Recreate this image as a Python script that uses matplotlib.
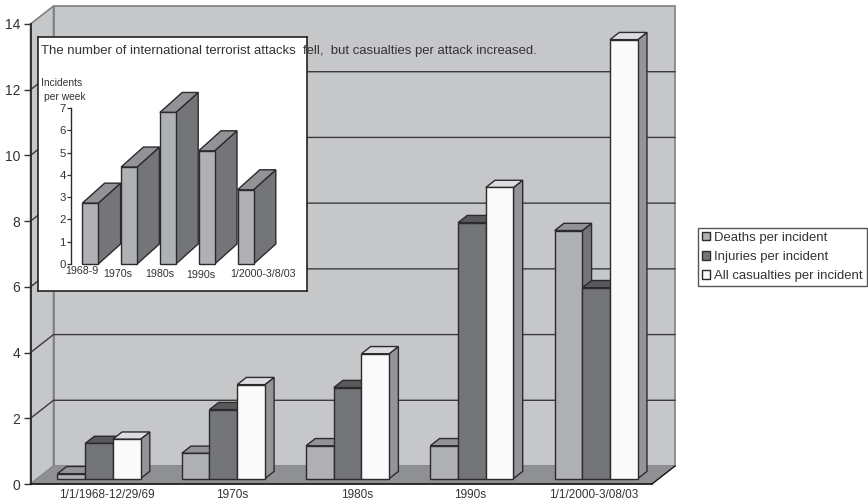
import matplotlib
matplotlib.use('Agg')
import matplotlib.pyplot as plt
from matplotlib.patches import Polygon, Patch

plt.rcParams['font.family'] = ['Liberation Sans', 'DejaVu Sans']

W, H = 868, 503

periods = ['1/1/1968-12/29/69', '1970s', '1980s', '1990s', '1/1/2000-3/08/03']
deaths = [0.15, 0.77, 1.0, 1.0, 7.55]
injuries = [1.07, 2.1, 2.77, 7.79, 5.81]
casualties = [1.2, 2.86, 3.8, 8.86, 13.36]
series_names = ['Deaths per incident', 'Injuries per incident', 'All casualties per incident']

inset_periods = ['1968-9', '1970s', '1980s', '1990s', '1/2000-3/8/03']
inset_values = [2.73, 4.35, 6.8, 5.08, 3.33]

TEXT = '#333335'
EDGE = '#2b2b2d'
WALL = '#c6c7c9'
FLOOR = '#8f9094'

# (front, top, side) shades for each series
SHADES = [('#b0b1b4', '#929396', '#747578'),
          ('#747578', '#58595b', '#58595b'),
          ('#fafafa', '#dcddde', '#939598')]


def px_axes(fig, x0, y0, x1, y1, **kw):
    # axes box given in pixels from the top left corner
    return fig.add_axes([x0 / W, 1 - y1 / H, (x1 - x0) / W, (y1 - y0) / H], **kw)


def draw_box(ax, x0, x1, low, high, ddx, ddy, shades, lw=1.0):
    front, top, side = shades
    kw = dict(edgecolor=EDGE, linewidth=lw, clip_on=False, joinstyle='miter')
    ax.add_patch(Polygon([(x1, low), (x1 + ddx, low + ddy), (x1 + ddx, high + ddy), (x1, high)],
                         facecolor=side, **kw))
    ax.add_patch(Polygon([(x0, high), (x1, high), (x1 + ddx, high + ddy), (x0 + ddx, high + ddy)],
                         facecolor=top, **kw))
    ax.add_patch(Polygon([(x0, low), (x1, low), (x1, high), (x0, high)],
                         facecolor=front, **kw))


fig = plt.figure(figsize=(W / 100, H / 100), dpi=100)

# main chart: front plane of the 3D box
ax = px_axes(fig, 30.5, 24, 652, 484)
ax.patch.set_visible(False)
ax.set_xlim(0, 5)
ax.set_ylim(0, 14)
depth_x = 23 / (621.5 / 5)
depth_y = 18 / (460 / 14)

ax.add_patch(Polygon([(depth_x, depth_y), (5 + depth_x, depth_y), (5 + depth_x, 14 + depth_y), (depth_x, 14 + depth_y)],
                     facecolor=WALL, edgecolor='#808184', linewidth=1.2, clip_on=False, zorder=0))
ax.add_patch(Polygon([(0, 0), (depth_x, depth_y), (depth_x, 14 + depth_y), (0, 14)],
                     facecolor=WALL, edgecolor='#808184', linewidth=1.2, clip_on=False, zorder=0))
ax.add_patch(Polygon([(0, 0), (5, 0), (5 + depth_x, depth_y), (depth_x, depth_y)],
                     facecolor=FLOOR, edgecolor='none', clip_on=False, zorder=0))
ax.plot([5, 5 + depth_x], [0, depth_y], color='#111111', lw=1, clip_on=False)

for v in range(2, 14, 2):
    ax.plot([0, depth_x, 5 + depth_x], [v, v + depth_y, v + depth_y],
            color='#3a3a3c', lw=1, clip_on=False, zorder=1)

bar_w = 27.7 / (621.5 / 5)
group_start = 0.217
for i in range(len(periods)):
    for j, vals in enumerate([deaths, injuries, casualties]):
        x0 = i + group_start + j * bar_w
        low = 0.3 * depth_y
        draw_box(ax, x0, x0 + bar_w, low, low + vals[i], 0.4 * depth_x, 0.4 * depth_y, SHADES[j])

ax.set_yticks(range(0, 16, 2))
ax.tick_params(axis='y', length=5, width=1, color=TEXT, labelcolor=TEXT, labelsize=10, pad=2.5)
# the labels sit a little off the group centres
ax.set_xticks([0.615, 1.62, 2.63, 3.54, 4.53], labels=periods)
ax.tick_params(axis='x', length=0, labelcolor=TEXT, labelsize=8.5, pad=3.5)
for name in ['top', 'right']:
    ax.spines[name].set_visible(False)
ax.spines['left'].set_color(EDGE)
ax.spines['left'].set_linewidth(1.3)
ax.spines['bottom'].set_color('#111111')
ax.spines['bottom'].set_linewidth(1.2)

leg = ax.legend(handles=[Patch(facecolor=SHADES[k][0], edgecolor=EDGE, label=series_names[k]) for k in range(3)],
                loc='upper left', bbox_to_anchor=(698 / W, 1 - 227.5 / H), bbox_transform=fig.transFigure,
                fontsize=9.45, labelcolor=TEXT, fancybox=False, framealpha=1, edgecolor='#555557',
                handlelength=0.62, handleheight=0.62, handletextpad=0.3, borderpad=0.32,
                labelspacing=0.55, borderaxespad=0)
leg.get_frame().set_linewidth(1)

# inset panel with its note
box = px_axes(fig, 37.5, 37, 307, 290.5)
box.set_xticks([])
box.set_yticks([])
box.set_facecolor('white')
for s in box.spines.values():
    s.set_color('#222224')
    s.set_linewidth(1.2)
fig.text(41 / W, 1 - 51 / H, 'The number of international terrorist attacks  fell,  but casualties per attack increased.',
         fontsize=9.46, color=TEXT, va='center', ha='left')
fig.text(61.5 / W, 1 - 83 / H, 'Incidents', fontsize=7.4, color=TEXT, va='center', ha='center')
fig.text(64.5 / W, 1 - 97 / H, 'per week', fontsize=7.4, color=TEXT, va='center', ha='center')

inset = px_axes(fig, 70.7, 108, 286, 264)
inset.patch.set_visible(False)
step = 38.8
inset.set_xlim((70.7 - 90.3) / step, (286 - 90.3) / step)
inset.set_ylim(0, 7)
in_w = 16 / step
in_dx = 22.3 / step
in_dy = 20 / (156 / 7)
for i, v in enumerate(inset_values):
    draw_box(inset, i - in_w / 2, i + in_w / 2, 0, v, in_dx, in_dy, ('#b0b1b4', '#929396', '#747578'), lw=1.0)

inset.set_yticks(range(8))
inset.tick_params(axis='y', length=3, width=0.9, color=TEXT, labelcolor=TEXT, labelsize=8.2, pad=0.5)
inset.set_xticks([])
for name in ['top', 'right', 'bottom']:
    inset.spines[name].set_visible(False)
inset.spines['left'].set_color(EDGE)
inset.spines['left'].set_linewidth(1)

label_px = [(82, 271), (118, 274), (160, 274), (201, 275), (263, 274)]
for lab, (lx, ly) in zip(inset_periods, label_px):
    fig.text(lx / W, 1 - ly / H, lab, fontsize=7.7, color=TEXT, ha='center', va='center')

fig.savefig('out.png', dpi=100)
